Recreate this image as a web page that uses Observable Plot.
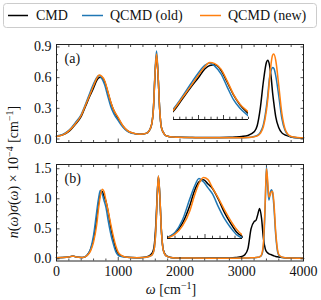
<!DOCTYPE html>
<html><head><meta charset="utf-8">
<script src="https://cdn.jsdelivr.net/npm/d3@7"></script>
<script src="https://cdn.jsdelivr.net/npm/@observablehq/plot@0.6"></script>
<style>
body{margin:0;background:#fff;}
#fig{position:relative;width:321px;height:300px;overflow:hidden;background:#fff;font-family:"Liberation Serif","DejaVu Serif",serif;}
#fig > svg{position:absolute;left:0;overflow:visible;}
</style></head><body><div id="fig"></div>
<script>
// ---------- data ----------
const seriesNames = ["CMD", "QCMD (old)", "QCMD (new)"];
const seriesColors = ["#000000", "#1f77b4", "#ff7f0e"];

// panel (a)
const omegaA = [0,100,200,300,400,470,540,600,650,690,730,780,830,880,930,1000,1070,1150,1250,1350,1450,1500,1540,1570,1595,1620,1645,1670,1700,1750,1800,1900,2000,2200,2400,2600,2800,2900,3000,3100,3200,3250,3300,3350,3400,3420,3450,3480,3500,3520,3550,3600,3650,3700,3750,3800,3900,4000];
const cmdA = [0.025,0.04,0.075,0.14,0.22,0.32,0.42,0.5,0.57,0.6,
  0.605,0.56,0.46,0.355,0.275,0.2,0.13,0.08,0.055,0.047,
  0.055,0.08,0.14,0.3,0.62,0.82,0.62,0.3,0.11,0.045,
  0.028,0.02,0.017,0.015,0.014,0.015,0.017,0.02,0.025,0.035,
  0.07,0.13,0.3,0.56,0.75,0.77,0.72,0.58,0.45,0.35,
  0.22,0.11,0.06,0.04,0.03,0.02,0.012,0.01];
const oldA = [0.03,0.045,0.085,0.155,0.24,0.34,0.45,0.54,0.6,0.62,
  0.595,0.53,0.42,0.315,0.245,0.18,0.12,0.075,0.053,0.046,
  0.055,0.08,0.14,0.31,0.65,0.86,0.63,0.3,0.11,0.045,
  0.028,0.02,0.017,0.014,0.012,0.012,0.012,0.012,0.013,0.015,
  0.025,0.035,0.065,0.14,0.32,0.42,0.6,0.68,0.7,0.69,
  0.62,0.42,0.2,0.085,0.04,0.022,0.013,0.012];
const newA = [0.025,0.04,0.08,0.145,0.23,0.33,0.43,0.52,0.59,0.625,
  0.615,0.57,0.47,0.36,0.28,0.21,0.135,0.082,0.056,0.047,
  0.055,0.08,0.14,0.3,0.63,0.83,0.62,0.3,0.11,0.045,
  0.028,0.02,0.017,0.014,0.012,0.012,0.012,0.012,0.013,0.015,
  0.022,0.03,0.055,0.12,0.28,0.38,0.58,0.76,0.82,0.83,
  0.77,0.52,0.25,0.1,0.045,0.025,0.015,0.012];

// panel (b)
const omegaB = [0,100,200,250,280,320,400,450,500,550,600,650,680,710,740,770,800,840,880,920,960,1000,1050,1100,1200,1300,1400,1500,1550,1580,1610,1630,1650,1670,1700,1730,1780,1850,2000,2200,2500,2800,2900,3000,3050,3100,3150,3200,3230,3260,3290,3320,3350,3380,3400,3420,3440,3460,3480,3500,3520,3550,3580,3600,3650,3700,3800,3900,4000];
const cmdB = [0.02,0.022,0.03,0.045,0.045,0.03,0.022,0.03,0.065,0.15,
  0.33,0.66,0.92,1.08,1.12,1.04,0.96,0.76,0.52,0.33,
  0.17,0.09,0.05,0.035,0.022,0.02,0.025,0.05,0.1,0.2,
  0.6,1.05,1.36,1.1,0.45,0.15,0.05,0.025,0.015,0.013,
  0.013,0.016,0.022,0.04,0.07,0.17,0.5,0.62,0.64,0.74,
  0.84,0.68,0.35,0.17,0.12,0.1,0.085,0.075,0.07,0.06,
  0.05,0.04,0.035,0.03,0.025,0.02,0.015,0.012,0.01];
const oldB = [0.02,0.022,0.03,0.045,0.045,0.03,0.022,0.03,0.07,0.16,
  0.39,0.78,1.0,1.14,1.08,0.97,0.86,0.62,0.41,0.25,
  0.12,0.06,0.04,0.03,0.022,0.02,0.022,0.04,0.07,0.15,
  0.5,1.0,1.38,1.12,0.45,0.14,0.045,0.025,0.015,0.013,
  0.012,0.012,0.012,0.013,0.014,0.015,0.017,0.02,0.022,0.026,
  0.035,0.06,0.2,0.9,1.53,1.2,0.98,1.1,1.15,1.1,
  0.88,0.4,0.12,0.06,0.025,0.018,0.014,0.012,0.012];
const newB = [0.02,0.022,0.03,0.045,0.045,0.03,0.022,0.03,0.06,0.13,
  0.28,0.56,0.83,1.05,1.16,1.12,0.97,0.78,0.57,0.38,
  0.22,0.11,0.06,0.035,0.022,0.02,0.022,0.04,0.07,0.15,
  0.5,1.0,1.38,1.12,0.45,0.14,0.045,0.025,0.015,0.013,
  0.012,0.012,0.012,0.013,0.014,0.015,0.017,0.02,0.022,0.026,
  0.035,0.07,0.25,0.95,1.5,1.3,1.03,1.06,1.12,1.12,
  0.95,0.45,0.15,0.07,0.03,0.02,0.014,0.012,0.012];

// ticks
const xMajor = [0,1000,2000,3000,4000];
const xMinor = [200,400,600,800,1200,1400,1600,1800,2200,2400,2600,2800,3200,3400,3600,3800];
const yMajorA = [0,0.3,0.6,0.9];
const yMinorA = [0.075,0.15,0.225,0.375,0.45,0.525,0.675,0.75,0.825];
const yMajorB = [0,0.5,1,1.5];
const yMinorB = [0.1,0.2,0.3,0.4,0.6,0.7,0.8,0.9,1.1,1.2,1.3,1.4];
const insetAMajor = [600,800];
const insetAMinor = [400,450,500,550,650,700,750,850,900,950,1000];
const insetBMajor = [750];
const insetBMinor = [500,550,600,650,700,800,850,900,950,1000];

// domains
const xDomain = [0,4000];
const yDomainA = [-0.034,0.924];
const yDomainB = [-0.035,1.57];
const insetADomainX = [400,1000], insetADomainY = [0.15,0.683];
const insetBDomainX = [500,1000], insetBDomainY = [0.05,1.25];

// ---------- build ----------
function rows(xs, list) {
  const out = [];
  list.forEach((ys, s) => xs.forEach((x, i) => out.push({omega: x, v: ys[i], series: seriesNames[s]})));
  return out;
}
const dataA = rows(omegaA, [cmdA, oldA, newA]);
const dataB = rows(omegaB, [cmdB, oldB, newB]);
const colorScale = {domain: seriesNames, range: seriesColors};
const FONT = '"Liberation Serif", "DejaVu Serif", serif';

function lines(data, clip) {
  return seriesNames.map(s => Plot.line(data.filter(d => d.series === s),
    {x: "omega", y: "v", stroke: "series", strokeWidth: 1.5, curve: "monotone-x", clip}));
}
function tickMarks(xMaj, xMin, yMaj, yMin) {
  const c = {stroke: "#222", tickFormat: () => "", label: null, strokeWidth: 0.8};
  const out = [];
  for (const a of ["bottom", "top"]) {
    out.push(Plot.axisX(xMaj, {...c, anchor: a, tickSize: -3.5}));
    out.push(Plot.axisX(xMin, {...c, anchor: a, tickSize: -2}));
  }
  for (const a of ["left", "right"]) {
    out.push(Plot.axisY(yMaj, {...c, anchor: a, tickSize: -3.5}));
    out.push(Plot.axisY(yMin, {...c, anchor: a, tickSize: -2}));
  }
  return out;
}

function panel({data, yDomain, yMaj, yMin, mt, mb, tag, showX}) {
  const marks = [
    ...lines(data, false),
    Plot.frame({stroke: "#222", strokeWidth: 1}),
    ...tickMarks(xMajor, xMinor, yMaj, yMin),
    Plot.axisY(yMaj, {anchor: "left", tickSize: 0, tickPadding: 5, tickFormat: d3.format(".1f"), label: null, fill: "#111"}),
    Plot.text([tag], {frameAnchor: "top-left", dx: 8, dy: 9, textAnchor: "start", lineAnchor: "top", fill: "#111"})
  ];
  if (showX) marks.push(Plot.axisX(xMajor, {anchor: "bottom", tickSize: 0, tickPadding: 5, tickFormat: d3.format("d"), label: null, fill: "#111"}));
  return Plot.plot({
    width: 321, height: 150, marginLeft: 56, marginRight: 18, marginTop: mt, marginBottom: mb,
    x: {domain: xDomain, label: null}, y: {domain: yDomain, label: null},
    color: colorScale,
    style: {fontFamily: FONT, fontSize: "14px", background: "transparent", overflow: "visible"},
    marks
  });
}

function inset({data, dx, dy, maj, min, ml, mr, mt, mb}) {
  return Plot.plot({
    width: 321, height: 150, marginLeft: ml, marginRight: mr, marginTop: mt, marginBottom: mb,
    x: {domain: dx, label: null, axis: null}, y: {domain: dy, label: null, axis: null},
    color: colorScale,
    style: {background: "transparent", overflow: "visible"},
    marks: [
      ...lines(data, true),
      Plot.ruleY([dy[0]], {stroke: "#111", strokeWidth: 1}),
      Plot.axisX(maj, {anchor: "bottom", tickSize: -4, tickFormat: () => "", label: null, stroke: "#111", strokeWidth: 0.8}),
      Plot.axisX(min, {anchor: "bottom", tickSize: -2.3, tickFormat: () => "", label: null, stroke: "#111", strokeWidth: 0.8})
    ]
  });
}

const fig = document.getElementById("fig");
const svgA = panel({data: dataA, yDomain: yDomainA, yMaj: yMajorA, yMin: yMinorA, mt: 44, mb: 8, tag: "(a)", showX: false});
svgA.style.top = "0px";
const svgB = panel({data: dataB, yDomain: yDomainB, yMaj: yMajorB, yMin: yMinorB, mt: 14, mb: 39.5, tag: "(b)", showX: true});
svgB.style.top = "150px";
const inA = inset({data: dataA, dx: insetADomainX, dy: insetADomainY, maj: insetAMajor, min: insetAMinor, ml: 173, mr: 73, mt: 55, mb: 31});
inA.style.top = "0px";
const inB = inset({data: dataB, dx: insetBDomainX, dy: insetBDomainY, maj: insetBMajor, min: insetBMinor, ml: 167, mr: 79, mt: 22, mb: 62});
inB.style.top = "150px";
fig.append(svgA, svgB, inA, inB);

// legend + axis titles
const NS = "http://www.w3.org/2000/svg";
const ann = document.createElementNS(NS, "svg");
ann.setAttribute("width", 321); ann.setAttribute("height", 300);
ann.style.top = "0px";
ann.style.fontFamily = FONT;
ann.innerHTML = `
  <rect x="3.5" y="3.5" width="313" height="24" rx="3" fill="#fff" stroke="#cccccc" stroke-width="1"/>
  <g stroke-width="1.5">
    <line x1="8" x2="28" y1="15.5" y2="15.5" stroke="${seriesColors[0]}"/>
    <line x1="82" x2="103" y1="15.5" y2="15.5" stroke="${seriesColors[1]}"/>
    <line x1="200" x2="221" y1="15.5" y2="15.5" stroke="${seriesColors[2]}"/>
  </g>
  <g font-size="14" fill="#111">
    <text x="36" y="20">${seriesNames[0]}</text>
    <text x="110" y="20">${seriesNames[1]}</text>
    <text x="228" y="20">${seriesNames[2]}</text>
  </g>
  <text transform="translate(18,172) rotate(-90)" text-anchor="middle" font-size="14" fill="#111"><tspan font-style="italic">n</tspan>(<tspan font-style="italic">ω</tspan>)<tspan font-style="italic">σ</tspan>(<tspan font-style="italic">ω</tspan>) × 10<tspan dy="-5" font-size="10">−4</tspan><tspan dy="5"> [cm</tspan><tspan dy="-5" font-size="10">−1</tspan><tspan dy="5">]</tspan></text>
  <text x="171" y="294" text-anchor="middle" font-size="14" fill="#111"><tspan font-style="italic">ω</tspan> [cm<tspan dy="-5" font-size="10">−1</tspan><tspan dy="5">]</tspan></text>
`;
fig.append(ann);
</script>
</body></html>
